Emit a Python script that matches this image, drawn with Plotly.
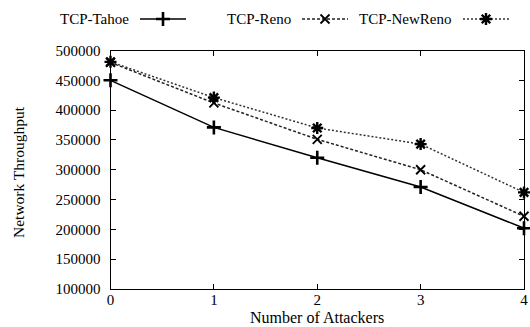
import plotly.graph_objects as go

W, H = 530, 327

attackers = [0, 1, 2, 3, 4]
tahoe = [450000, 371000, 320000, 271000, 202000]
reno = [480000, 412000, 351000, 300000, 222000]
newreno = [481000, 421000, 370000, 343000, 262000]

series_names = ["TCP-Tahoe", "TCP-Reno", "TCP-NewReno"]
x_tick_labels = ["0", "1", "2", "3", "4"]
y_tick_values = [100000, 150000, 200000, 250000, 300000, 350000, 400000, 450000, 500000]

styles = [
    dict(color="#000000", dash="solid", width=1.5, symbol="cross-thin", msize=10, mw=2.6),
    dict(color="#222222", dash="3px,2px", width=1.5, symbol="x-thin", msize=9, mw=1.8),
    dict(color="#333333", dash="2px,2px", width=1.5, symbol="asterisk", msize=10, mw=2.4),
]

FONT = "Liberation Serif, Times New Roman, serif"


def fx(px):  # page pixel x -> paper fraction
    return px / W


def fy(py):  # page pixel y -> paper fraction
    return 1 - py / H


fig = go.Figure()
for name, ys, st in zip(series_names, [tahoe, reno, newreno], styles):
    fig.add_trace(go.Scatter(
        x=attackers, y=ys, name=name, mode="lines+markers",
        line=dict(color=st["color"], dash=st["dash"], width=st["width"]),
        marker=dict(symbol=st["symbol"], size=st["msize"],
                    line=dict(color="#000000", width=st["mw"])),
        showlegend=False, cliponaxis=False,
    ))

# legend glyphs (gnuplot style: text then sample) on pixel overlay axes
leg_text_right = [131, 293, 454]
leg_line = [(140, 186), (302, 348), (463, 509)]
leg_y = 19
for name, st, xr, (x0, x1) in zip(series_names, styles, leg_text_right, leg_line):
    fig.add_trace(go.Scatter(
        x=[x0, (x0 + x1) / 2, x1], y=[leg_y, leg_y, leg_y], xaxis="x2", yaxis="y2",
        mode="lines", line=dict(color=st["color"], dash=st["dash"], width=st["width"]),
        showlegend=False, hoverinfo="skip",
    ))
    fig.add_trace(go.Scatter(
        x=[(x0 + x1) / 2], y=[leg_y], xaxis="x2", yaxis="y2", mode="markers",
        marker=dict(symbol=st["symbol"], size=st["msize"],
                    line=dict(color="#000000", width=st["mw"])),
        showlegend=False, hoverinfo="skip",
    ))
    fig.add_annotation(x=fx(xr), y=fy(leg_y), xref="paper", yref="paper",
                       text=name, showarrow=False, xanchor="right", yanchor="middle",
                       font=dict(family=FONT, size=15, color="#000"))

px_left, px_right, px_top, px_bottom = 110.5, 524, 50.5, 289

axis_common = dict(showline=True, linecolor="#000", linewidth=1.2, mirror="allticks",
                   ticks="inside", ticklen=5, tickwidth=1.2, tickcolor="#000",
                   showgrid=False, zeroline=False, automargin=False,
                   tickfont=dict(family=FONT, size=15, color="#000"))

fig.update_layout(
    width=W, height=H,
    margin=dict(l=0, r=0, t=0, b=0),
    paper_bgcolor="white", plot_bgcolor="rgba(0,0,0,0)",
    showlegend=False,
    xaxis=dict(domain=[fx(px_left), fx(px_right)], range=[0, 4],
               tickvals=attackers, ticktext=x_tick_labels,
               ticklabelstandoff=-3, **axis_common),
    yaxis=dict(domain=[fy(px_bottom), fy(px_top)], range=[100000, 500000],
               tickvals=y_tick_values, ticktext=[str(v) for v in y_tick_values],
               ticklabelstandoff=6, **axis_common),
    xaxis2=dict(domain=[0, 1], range=[0, W], visible=False, anchor="y2", fixedrange=True),
    yaxis2=dict(domain=[0, 1], range=[H, 0], visible=False, anchor="x2", fixedrange=True),
)

fig.add_annotation(x=fx((px_left + px_right) / 2), y=fy(317.5), xref="paper", yref="paper",
                   text="Number of Attackers", showarrow=False,
                   xanchor="center", yanchor="middle",
                   font=dict(family=FONT, size=16, color="#000"))
fig.add_annotation(x=fx(18), y=fy(172), xref="paper", yref="paper",
                   text="Network Throughput", showarrow=False, textangle=-90,
                   xanchor="center", yanchor="middle",
                   font=dict(family=FONT, size=15.5, color="#000"))

fig.write_html("out.html", config={"displayModeBar": False},
               post_script="document.body.style.margin='0';document.body.style.overflow='hidden';")
